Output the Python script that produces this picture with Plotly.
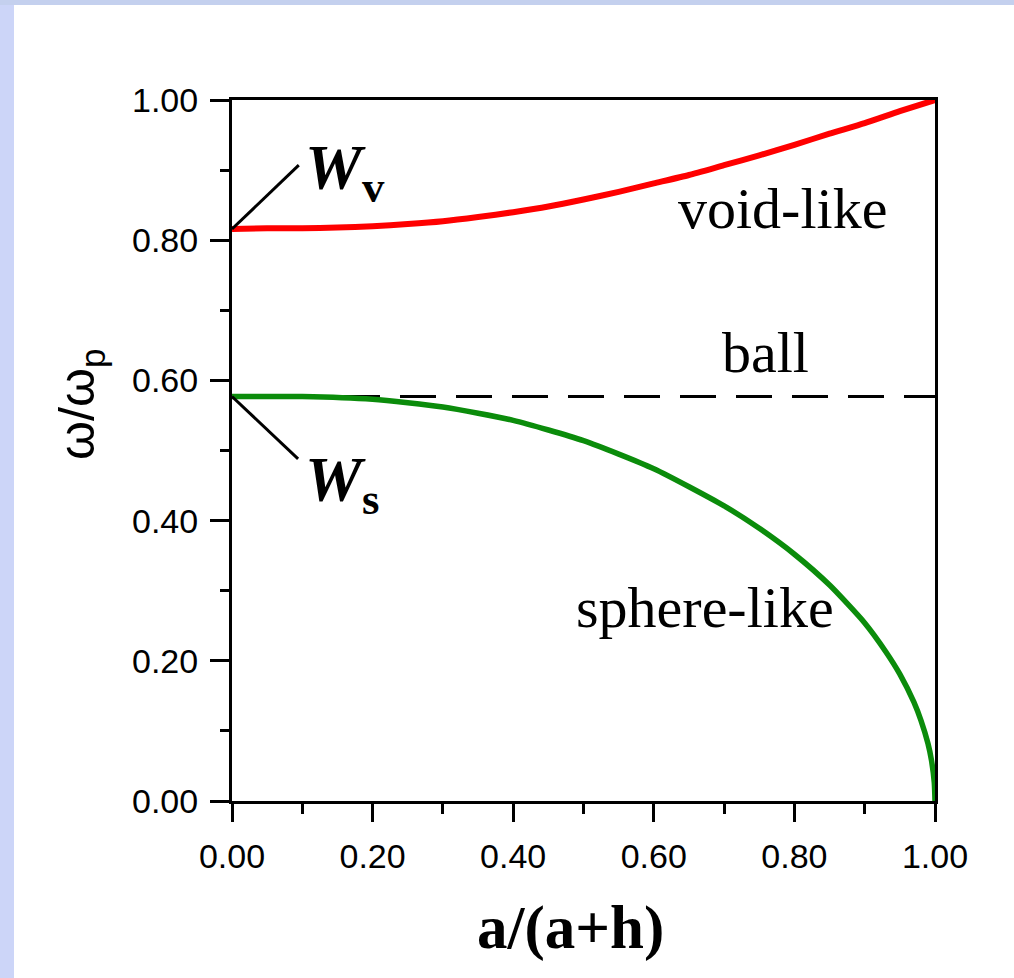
import plotly.graph_objects as go

# ---------------- data ----------------
x_sphere = [0.0, 0.1, 0.2, 0.3, 0.4, 0.5, 0.6, 0.7, 0.75, 0.8, 0.85, 0.9, 0.93,
            0.95, 0.97, 0.98, 0.99, 0.995, 0.999, 1.0]
w_sphere = [0.577, 0.577, 0.573, 0.562, 0.543, 0.514, 0.474, 0.421, 0.389, 0.352,
            0.308, 0.254, 0.213, 0.181, 0.141, 0.115, 0.082, 0.058, 0.026, 0.0]

x_void = [0.0, 0.05, 0.1, 0.15, 0.2, 0.25, 0.3, 0.35, 0.4, 0.45, 0.5, 0.55, 0.6,
          0.65, 0.7, 0.75, 0.8, 0.85, 0.9, 0.95, 1.0]
w_void = [0.816, 0.817, 0.817, 0.818, 0.820, 0.823, 0.827, 0.833, 0.840, 0.848,
          0.858, 0.869, 0.881, 0.893, 0.907, 0.921, 0.936, 0.952, 0.967, 0.984, 1.0]

x_ball = [0.0, 1.0]
w_ball = [0.577, 0.577]

tick_vals = [0.0, 0.2, 0.4, 0.6, 0.8, 1.0]
tick_text = ["0.00", "0.20", "0.40", "0.60", "0.80", "1.00"]

W_V = 0.816
W_S = 0.577

# ---------------- figure ----------------
fig = go.Figure()

fig.add_trace(go.Scatter(x=x_ball, y=w_ball, mode="lines",
                         line=dict(color="black", width=3, dash="36px,20px"),
                         cliponaxis=False, showlegend=False))
fig.add_trace(go.Scatter(x=x_sphere, y=w_sphere, mode="lines",
                         line=dict(color="#0b8c0b", width=5.5, shape="spline", smoothing=0.6),
                         cliponaxis=False, showlegend=False))
fig.add_trace(go.Scatter(x=x_void, y=w_void, mode="lines",
                         line=dict(color="#ff0000", width=6, shape="spline", smoothing=0.6),
                         cliponaxis=False, showlegend=False))

L, R, T, B = 232, 79, 100, 177
W, H = 1014, 978
pw, ph = W - L - R, H - T - B


def px(xp):
    return (xp - L) / pw


def py(yp):
    return (H - B - yp) / ph


axis_common = dict(
    range=[0, 1], showgrid=False, zeroline=False,
    showline=True, linecolor="black", linewidth=3, mirror=True,
    ticks="outside", tickwidth=3, tickcolor="black",
    tickvals=tick_vals, ticktext=tick_text,
    tickfont=dict(family="Liberation Sans, Arial, sans-serif", size=34, color="black"),
    minor=dict(dtick=0.1, tick0=0, ticks="outside", tickwidth=3, tickcolor="black"),
)

fig.update_layout(
    width=W, height=H,
    margin=dict(l=L, r=R, t=T, b=B, pad=0),
    paper_bgcolor="white", plot_bgcolor="white",
    xaxis=dict(axis_common, ticklen=18, minor_ticklen=10, ticklabelstandoff=5),
    yaxis=dict(axis_common, ticklen=19, minor_ticklen=9, ticklabelstandoff=5),
    showlegend=False,
)

# decorative page border strips (lavender)
fig.add_shape(type="rect", xref="paper", yref="paper", x0=px(0), x1=px(14), y0=py(H), y1=py(0),
              fillcolor="#ccd5f8", line_width=0, layer="below")
fig.add_shape(type="rect", xref="paper", yref="paper", x0=px(0), x1=px(W), y0=py(5), y1=py(0),
              fillcolor="#c4d0ee", line_width=0, layer="below")

# leader lines for W_v and W_s
fig.add_shape(type="line", xref="x", yref="y", x0=0, y0=W_V, x1=0.095, y1=0.907,
              line=dict(color="black", width=3))
fig.add_shape(type="line", xref="x", yref="y", x0=0, y0=W_S, x1=0.094, y1=0.488,
              line=dict(color="black", width=3))

serif = "Liberation Serif, Times New Roman, serif"

annotations = [
    dict(text="<b><i>W</i><sub>v</sub></b>", x=px(303), y=py(172), xanchor="left", yanchor="middle",
         font=dict(family=serif, size=64, color="black")),
    dict(text="<b><i>W</i><sub>s</sub></b>", x=px(303), y=py(484), xanchor="left", yanchor="middle",
         font=dict(family=serif, size=64, color="black")),
    dict(text="void-like", x=px(782), y=py(208), xanchor="center", yanchor="middle",
         font=dict(family=serif, size=58, color="black")),
    dict(text="ball", x=px(765), y=py(352), xanchor="center", yanchor="middle",
         font=dict(family=serif, size=58, color="black")),
    dict(text="sphere-like", x=px(705), y=py(607), xanchor="center", yanchor="middle",
         font=dict(family=serif, size=58, color="black")),
    dict(text="<b>a/(a+h)</b>", x=px(570), y=py(928), xanchor="center", yanchor="middle",
         font=dict(family=serif, size=61, color="black")),
    dict(text="ω/ω<sub>p</sub>", x=px(80), y=py(405), xanchor="center", yanchor="middle",
         textangle=-90, font=dict(family="Liberation Sans, Arial, sans-serif", size=50, color="black")),
]
for a in annotations:
    fig.add_annotation(xref="paper", yref="paper", showarrow=False, **a)

fig.write_html("out.html", config={"displayModeBar": False},
               post_script="document.body.style.margin='0';")
